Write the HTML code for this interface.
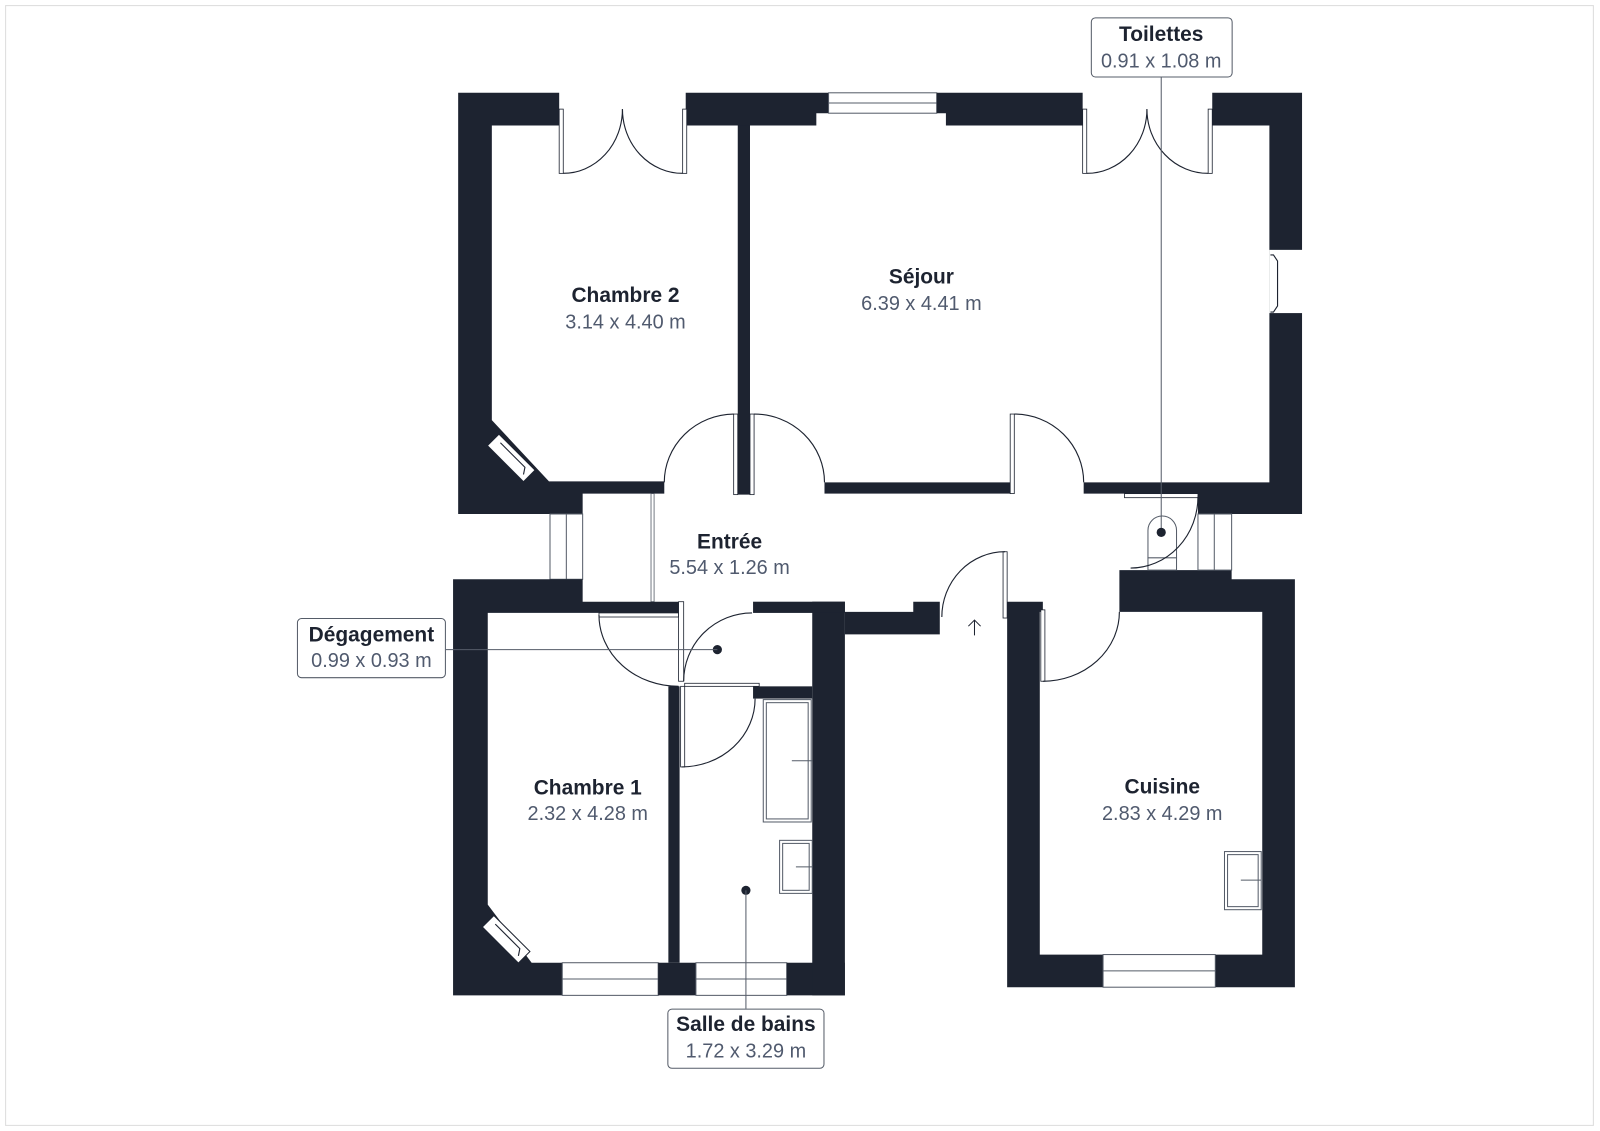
<!DOCTYPE html>
<html><head><meta charset="utf-8">
<style>
html,body{margin:0;padding:0;background:#fff;}
svg{display:block;}
.t{font-family:"Liberation Sans",sans-serif;font-weight:bold;font-size:20.5px;fill:#1d2330;text-anchor:middle;}
.d{font-family:"Liberation Sans",sans-serif;font-size:19.5px;fill:#505a6e;text-anchor:middle;}
.w{fill:#1d2330;}
.ln{fill:none;stroke:#1d2330;stroke-width:1.1;}
.win{fill:#fff;stroke:#555c68;stroke-width:1;}
</style></head><body>
<svg width="1600" height="1131" viewBox="0 0 1568 1109" preserveAspectRatio="none" xmlns="http://www.w3.org/2000/svg">
<rect x="0" y="0" width="1568" height="1109" fill="#fff"/>
<rect x="5.5" y="5.5" width="1556" height="1098" fill="none" stroke="#dcdcdc" stroke-width="1"/>

<polygon class="w" points="449,91 548,91 548,123 482,123 482,412 538,472 651,472 651,484 571,484 571,504 449,504"/>
<polygon class="w" points="672,91 812,91 812,111 800,111 800,123 672,123"/>
<rect class="w" x="723" y="123" width="12" height="362"/>
<rect class="win" x="812" y="91" width="106" height="20"/>
<line x1="812" y1="101" x2="918" y2="101" stroke="#555c68" stroke-width="1"/>
<polygon class="w" points="918,91 1061,91 1061,123 927,123 927,111 918,111"/>
<polygon class="w" points="1188,91 1276,91 1276,504 1174,504 1174,484 1062,484 1062,473 1244,473 1244,123 1188,123"/>
<rect x="1244" y="245" width="33" height="62" fill="#fff"/>
<path d="M1245,250 h3 l4,6 v44 l-4,6 h-3" class="ln" stroke-width="1"/>
<rect class="w" x="808" y="473" width="182" height="11"/>
<rect x="1102" y="484" width="72" height="4" fill="#fff" stroke="#1d2330" stroke-width="0.8"/>

<rect x="548" y="107" width="4" height="63" fill="#fff" stroke="#1d2330" stroke-width="0.8"/>
<rect x="669" y="107" width="4" height="63" fill="#fff" stroke="#1d2330" stroke-width="0.8"/>
<path class="ln" d="M552,170 A58,63 0 0 0 610,107"/>
<path class="ln" d="M669,170 A59,63 0 0 1 610,107"/>
<rect x="1061" y="107" width="4" height="63" fill="#fff" stroke="#1d2330" stroke-width="0.8"/>
<rect x="1184" y="107" width="4" height="63" fill="#fff" stroke="#1d2330" stroke-width="0.8"/>
<path class="ln" d="M1065,170 A59,63 0 0 0 1124,107"/>
<path class="ln" d="M1184,170 A60,63 0 0 1 1124,107"/>

<rect x="719" y="406" width="4" height="79" fill="#fff" stroke="#1d2330" stroke-width="0.8"/>
<rect x="735" y="406" width="4" height="79" fill="#fff" stroke="#1d2330" stroke-width="0.8"/>
<path class="ln" d="M651,473 A69,67 0 0 1 719,406"/>
<path class="ln" d="M739,406 A69,67 0 0 1 808,473"/>
<rect x="990" y="406" width="4" height="78" fill="#fff" stroke="#1d2330" stroke-width="0.8"/>
<path class="ln" d="M994,406 A68,67 0 0 1 1062,473"/>

<rect class="win" x="539" y="504" width="32" height="64"/>
<line x1="555" y1="504" x2="555" y2="568" stroke="#555c68" stroke-width="1"/>
<rect x="638" y="484" width="3" height="106" fill="#fff" stroke="#555c68" stroke-width="0.8"/>

<polygon class="w" points="444,568 571,568 571,590 666,590 666,601 478,601 478,887 521,944 551,944 551,976 444,976"/>
<rect class="win" x="551" y="944" width="94" height="32"/>
<line x1="551" y1="960" x2="645" y2="960" stroke="#555c68"/>
<rect class="w" x="645" y="944" width="37" height="32"/>
<rect class="win" x="682" y="944" width="89" height="32"/>
<line x1="682" y1="960" x2="771" y2="960" stroke="#555c68"/>
<rect class="w" x="771" y="944" width="57" height="32"/>
<rect class="w" x="655" y="673" width="11" height="271"/>
<rect class="w" x="796" y="590" width="32" height="386"/>
<rect class="w" x="738" y="590" width="90" height="11"/>
<rect class="w" x="738" y="673" width="58" height="12"/>
<polygon class="w" points="828,600 895,600 895,590 921,590 921,622 828,622"/>

<!-- radiators (on top of walls) -->
<g transform="translate(501,449) rotate(45)"><rect x="-25" y="-8" width="50" height="16" fill="#fff" stroke="#1d2330" stroke-width="1"/><path class="ln" d="M-18,-3 h34 l4,6" stroke-width="0.8"/></g>
<g transform="translate(496,921) rotate(45)"><rect x="-25" y="-8" width="50" height="16" fill="#fff" stroke="#1d2330" stroke-width="1"/><path class="ln" d="M-18,-3 h34 l4,6" stroke-width="0.8"/></g>

<rect x="587" y="601" width="78" height="4" fill="#fff" stroke="#1d2330" stroke-width="0.8"/>
<path class="ln" d="M587,603 A78,70 0 0 0 665,673"/>
<rect x="665" y="590" width="5" height="78" fill="#fff" stroke="#1d2330" stroke-width="0.8"/>
<path class="ln" d="M737,601 A67,67 0 0 0 670,668"/>
<rect x="671" y="670" width="73" height="3" fill="#fff" stroke="#1d2330" stroke-width="0.8"/>
<rect x="667" y="673" width="4" height="79" fill="#fff" stroke="#1d2330" stroke-width="0.8"/>
<path class="ln" d="M740,685 A72,67 0 0 1 668,752"/>
<circle cx="703" cy="637" r="4.5" fill="#1d2330"/>

<rect x="748" y="686" width="47" height="120" fill="#fff" stroke="#555c68" stroke-width="1"/>
<rect x="751" y="689" width="41" height="114" fill="none" stroke="#555c68" stroke-width="1"/>
<line x1="776" y1="746" x2="796" y2="746" stroke="#555c68"/>
<rect x="764" y="824" width="32" height="52" fill="#fff" stroke="#555c68" stroke-width="1"/>
<rect x="767" y="827" width="26" height="46" fill="none" stroke="#555c68" stroke-width="1"/>
<line x1="780" y1="850" x2="796" y2="850" stroke="#555c68"/>
<circle cx="731" cy="873" r="4.5" fill="#1d2330"/>
<line x1="731" y1="873" x2="731" y2="989" stroke="#555c68" stroke-width="1"/>

<rect x="983" y="541" width="4" height="65" fill="#fff" stroke="#1d2330" stroke-width="0.8"/>
<path class="ln" d="M985,541 A62,64 0 0 0 923,605"/>
<path d="M955,623 V608 M949,614 L955,608 L961,614" fill="none" stroke="#1d2330" stroke-width="1"/>

<polygon class="w" points="987,590 1022,590 1022,600 1019,600 1019,936 1237,936 1237,600 1097,600 1097,559 1174,559 1207,559 1207,568 1269,568 1269,968 987,968"/>
<rect class="win" x="1081" y="936" width="110" height="32"/>
<line x1="1081" y1="952" x2="1191" y2="952" stroke="#555c68"/>
<rect x="1020" y="598" width="4" height="70" fill="#fff" stroke="#1d2330" stroke-width="0.8"/>
<path class="ln" d="M1022,668 A75,68 0 0 0 1097,600"/>
<rect x="1200" y="835" width="36" height="57" fill="#fff" stroke="#555c68" stroke-width="1"/>
<rect x="1203" y="838" width="30" height="51" fill="none" stroke="#555c68" stroke-width="1"/>
<line x1="1216" y1="863" x2="1236" y2="863" stroke="#555c68"/>

<rect class="win" x="1174" y="504" width="33" height="55"/>
<line x1="1190" y1="504" x2="1190" y2="559" stroke="#555c68"/>
<path d="M1125,547 V520 A14,14 0 0 1 1153,520 V547 Z" fill="#fff" stroke="#555c68" stroke-width="1"/>
<rect x="1125" y="547" width="28" height="12" fill="#fff" stroke="#555c68" stroke-width="1"/>
<path class="ln" d="M1108,557 A66,70 0 0 0 1174,487"/>
<line x1="1138" y1="75" x2="1138" y2="522" stroke="#555c68" stroke-width="1"/>
<circle cx="1138" cy="522" r="4.5" fill="#1d2330"/>

<line x1="437" y1="637" x2="703" y2="637" stroke="#555c68" stroke-width="1"/>

<rect x="1069.5" y="17.5" width="138" height="58" rx="4" fill="#fff" stroke="#555c68" stroke-width="1"/>
<text class="t" x="1138" y="40">Toilettes</text>
<text class="d" x="1138" y="66">0.91 x 1.08 m</text>
<rect x="291.5" y="606.5" width="145" height="58" rx="4" fill="#fff" stroke="#555c68" stroke-width="1"/>
<text class="t" x="364" y="629">Dégagement</text>
<text class="d" x="364" y="654">0.99 x 0.93 m</text>
<rect x="654.5" y="989.5" width="153" height="58" rx="4" fill="#fff" stroke="#555c68" stroke-width="1"/>
<text class="t" x="731" y="1011">Salle de bains</text>
<text class="d" x="731" y="1037">1.72 x 3.29 m</text>

<text class="t" x="613" y="296">Chambre 2</text>
<text class="d" x="613" y="322">3.14 x 4.40 m</text>
<text class="t" x="903" y="278">Séjour</text>
<text class="d" x="903" y="304">6.39 x 4.41 m</text>
<text class="t" x="715" y="538">Entrée</text>
<text class="d" x="715" y="563">5.54 x 1.26 m</text>
<text class="t" x="576" y="779">Chambre 1</text>
<text class="d" x="576" y="804">2.32 x 4.28 m</text>
<text class="t" x="1139" y="778">Cuisine</text>
<text class="d" x="1139" y="804">2.83 x 4.29 m</text>
</svg>
</body></html>
